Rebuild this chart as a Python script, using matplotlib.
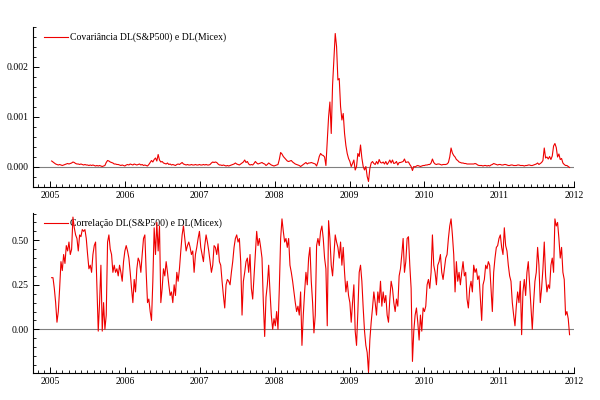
import numpy as np
import matplotlib
matplotlib.use("Agg")
import matplotlib.pyplot as plt
from matplotlib.ticker import MultipleLocator, FormatStrFormatter

plt.rcParams['font.family'] = ['Liberation Serif', 'DejaVu Serif']

# dates in decimal years (regular grid, ~6.5 days apart)
t_start = 2005.022
t_end = 2011.938

# covariance DL(S&P500) x DL(Micex), in units of 1e-4
cov_e4 = [
    1.2, 1.0, 0.8, 0.6, 0.5, 0.4, 0.5, 0.4, 0.3, 0.4,
    0.5, 0.6, 0.7, 0.6, 0.7, 0.8, 1.0, 0.9, 0.7, 0.6,
    0.6, 0.5, 0.6, 0.5, 0.4, 0.5, 0.4, 0.4, 0.3, 0.4,
    0.3, 0.4, 0.3, 0.2, 0.3, 0.2, 0.3, 0.2, 0.1, 0.2,
    0.3, 0.9, 1.3, 1.2, 1.0, 0.9, 0.8, 0.6, 0.6, 0.5,
    0.5, 0.4, 0.3, 0.4, 0.3, 0.2, 0.4, 0.5, 0.4, 0.6,
    0.5, 0.4, 0.6, 0.5, 0.4, 0.5, 0.6, 0.4, 0.5, 0.3,
    0.4, 0.3, 0.2, 0.5, 0.9, 1.3, 1.0, 1.5, 1.8, 1.2,
    2.5, 1.4, 1.0, 1.1, 0.8, 0.7, 0.6, 0.8, 0.5, 0.6,
    0.4, 0.5, 0.4, 0.3, 0.5, 0.6, 0.5, 0.7, 0.9, 0.6,
    0.5, 0.4, 0.5, 0.4, 0.4, 0.5, 0.4, 0.4, 0.5, 0.4,
    0.4, 0.5, 0.4, 0.4, 0.5, 0.4, 0.5, 0.4, 0.4, 0.5,
    0.8, 1.0, 0.9, 1.0, 0.9, 0.6, 0.4, 0.4, 0.3, 0.4,
    0.3, 0.2, 0.3, 0.2, 0.3, 0.4, 0.5, 0.6, 0.8, 0.6,
    0.5, 0.4, 0.6, 0.8, 1.0, 1.4, 0.9, 1.1, 0.6, 0.4,
    0.5, 0.4, 0.7, 1.1, 0.8, 0.6, 0.7, 0.8, 0.9, 0.7,
    0.6, 0.3, 0.5, 0.8, 0.6, 0.4, 0.3, 0.2, 0.3, 0.4,
    0.5, 1.5, 2.9, 2.6, 2.1, 1.8, 1.5, 1.2, 1.1, 1.2,
    1.3, 1.0, 0.8, 0.6, 0.5, 0.4, 0.3, 0.1, 0.3, 0.5,
    0.7, 0.9, 0.6, 0.8,
    # 2008 crisis
    0.8, 0.9, 0.8, 0.7, 0.6, 0.2, 1.0, 2.1, 2.7, 2.4,
    2.3, 2.0, 0.3, 5.0, 10.0, 13.0, 6.7, 16.4, 21.4, 26.7,
    24.1, 17.4, 17.7, 12.1, 9.4, 10.7, 6.7, 4.3, 2.7, 1.7,
    1.1, 0.1, 0.7, 1.4, -0.6, 0.1, 2.7, 2.1, 4.4, 1.8,
    0.1, -0.6, 0.1, -1.9, -2.9, -0.3, 0.8, 1.1, 0.7, 0.5,
    1.1, 0.6, 1.5, 0.9, 0.8, 1.0, 0.6, 1.1, 0.5, 0.9,
    1.4, 0.8, 1.4, 0.7, 0.8, 1.1, 0.4, 0.9,
    # 2009.7 onwards
    0.9, 1.0, 1.1, 1.6, 0.9, 1.0, 1.0, 0.5, 0.1, -0.7,
    0.1, 0.0, 0.2, 0.3, 0.2, 0.1, 0.2, 0.3, 0.3, 0.4,
    0.4, 0.5, 0.5, 0.8, 1.6, 0.9, 0.6, 0.5, 0.6, 0.6,
    0.5, 0.4, 0.5, 0.5, 0.5, 0.6, 0.9, 2.0, 3.8, 2.8,
    2.3, 2.0, 1.5, 1.3, 1.0, 0.9, 0.8, 0.8, 0.7, 0.7,
    0.6, 0.6, 0.6, 0.6, 0.6, 0.6, 0.7, 0.6, 0.4, 0.3,
    0.3, 0.3, 0.2, 0.3, 0.3, 0.2, 0.3, 0.2, 0.4, 0.5,
    0.7, 0.6, 0.5, 0.4, 0.5, 0.5, 0.4, 0.4, 0.5, 0.5,
    0.4, 0.3, 0.3, 0.4, 0.4, 0.3, 0.3, 0.3, 0.4, 0.4,
    0.3, 0.3, 0.3, 0.2, 0.3, 0.3, 0.4, 0.4, 0.3, 0.3,
    0.4, 0.5, 0.6, 0.8, 0.5, 0.7, 0.9, 1.3, 3.8, 1.8,
    2.0, 1.6, 2.1, 1.5, 2.2, 4.2, 4.7, 3.9, 2.0, 2.6,
    1.5, 1.7, 0.8, 0.5, 0.3, 0.3, 0.1, -0.1,
]

# correlation DL(S&P500) x DL(Micex)
corr = [
    0.29, 0.29, 0.23, 0.15, 0.04, 0.10, 0.23, 0.38, 0.33, 0.42,
    0.37, 0.47, 0.44, 0.49, 0.42, 0.45, 0.63, 0.57, 0.53, 0.51,
    0.44, 0.53, 0.52, 0.56, 0.55, 0.56, 0.51, 0.42, 0.34, 0.36,
    0.32, 0.42, 0.47, 0.49, 0.25, -0.01, 0.15, 0.36, -0.01, 0.15,
    0.00, 0.08, 0.49, 0.53, 0.45, 0.42, 0.32, 0.36, 0.32, 0.34,
    0.30, 0.36, 0.32, 0.27, 0.38, 0.44, 0.47, 0.44, 0.40, 0.32,
    0.23, 0.15, 0.28, 0.21, 0.34, 0.40, 0.38, 0.32, 0.42, 0.51,
    0.53, 0.32, 0.15, 0.17, 0.10, 0.05, 0.27, 0.57, 0.42, 0.60,
    0.44, 0.58, 0.15, 0.23, 0.34, 0.30, 0.38, 0.32, 0.25, 0.19,
    0.21, 0.15, 0.25, 0.19, 0.32, 0.27, 0.34, 0.44, 0.53, 0.58,
    # 2006.7 - 2008.5
    0.51, 0.44, 0.47, 0.49, 0.46, 0.42, 0.44, 0.32, 0.42, 0.46,
    0.51, 0.55, 0.46, 0.42, 0.38, 0.47, 0.53, 0.49, 0.44, 0.38,
    0.32, 0.36, 0.47, 0.46, 0.42, 0.48, 0.38, 0.36, 0.27, 0.19,
    0.12, 0.25, 0.28, 0.27, 0.25, 0.32, 0.38, 0.46, 0.51, 0.53,
    0.49, 0.51, 0.38, 0.08, 0.27, 0.32, 0.38, 0.40, 0.32, 0.42,
    0.23, 0.17, 0.30, 0.42, 0.55, 0.47, 0.51, 0.46, 0.40, 0.15,
    -0.04, 0.18, 0.25, 0.36, 0.21, 0.08, 0.00, 0.06, 0.02, 0.10,
    0.00, 0.23, 0.51, 0.62, 0.55, 0.49, 0.51, 0.46, 0.51, 0.36,
    0.32, 0.27, 0.21, 0.15, 0.10, 0.13, 0.08, 0.21, -0.09, 0.08,
    0.21, 0.32, 0.25, 0.40, 0.46, 0.27, 0.15, -0.02, 0.08, 0.47,
    0.51,
    # 2008.5 - 2010.3
    0.47, 0.55, 0.58, 0.51, 0.40, 0.34, 0.02, 0.61, 0.51, 0.36,
    0.30, 0.42, 0.53, 0.49, 0.46, 0.40, 0.49, 0.36, 0.46, 0.32,
    0.21, 0.27, 0.19, 0.15, 0.04, 0.15, 0.25, -0.01, -0.09, 0.10,
    0.32, 0.36, 0.27, 0.12, -0.01, -0.09, -0.13, -0.24, -0.06, 0.04,
    0.12, 0.21, 0.15, 0.08, 0.21, 0.15, 0.27, 0.13, 0.21, 0.15,
    0.19, 0.08, 0.04, 0.17, 0.27, 0.23, 0.15, 0.10, 0.17, 0.13,
    0.30, 0.34, 0.42, 0.51, 0.32, 0.38, 0.51, 0.52, 0.36, 0.23,
    -0.18, -0.01, 0.08, 0.12, 0.04, -0.06, 0.08, -0.01, 0.12, 0.10,
    0.13, 0.25, 0.28, 0.23, 0.32, 0.53, 0.36, 0.32, 0.25, 0.36,
    0.38, 0.42, 0.32, 0.28, 0.34, 0.40, 0.42, 0.51, 0.58, 0.62,
    0.53,
    # 2010.3 - 2011.95
    0.42, 0.21, 0.38, 0.27, 0.32, 0.25, 0.32, 0.38, 0.30, 0.32,
    0.17, 0.12, 0.23, 0.27, 0.21, 0.36, 0.32, 0.34, 0.28, 0.30,
    0.17, 0.05, 0.25, 0.28, 0.36, 0.34, 0.38, 0.36, 0.23, 0.10,
    0.32, 0.40, 0.46, 0.47, 0.51, 0.53, 0.46, 0.42, 0.57, 0.47,
    0.44, 0.36, 0.30, 0.27, 0.15, 0.08, 0.02, 0.13, 0.21, 0.15,
    0.27, -0.03, 0.21, 0.28, 0.19, 0.32, 0.38, 0.25, 0.13, 0.00,
    0.15, 0.27, 0.32, 0.46, 0.36, 0.15, 0.23, 0.34, 0.49, 0.30,
    0.21, 0.25, 0.23, 0.36, 0.40, 0.32, 0.62, 0.58, 0.60, 0.51,
    0.40, 0.46, 0.32, 0.28, 0.08, 0.10, 0.06, -0.03,
]

t_cov = np.linspace(t_start, t_end, len(cov_e4))
t_corr = np.linspace(t_start, t_end, len(corr))
cov = np.array(cov_e4) * 1e-4

fig = plt.figure(figsize=(6, 4), dpi=100)
ax1 = fig.add_axes([0.055, 0.5325, 0.902, 0.40])
ax2 = fig.add_axes([0.055, 0.0675, 0.902, 0.40])

panels = [
    (ax1, t_cov, cov, 'Covariância DL(S&P500) e DL(Micex)', (-0.0004, 0.0028), 0.001, 0.0002, '%.3f'),
    (ax2, t_corr, corr, 'Correlação DL(S&P500) e DL(Micex)', (-0.245, 0.653), 0.25, 0.05, '%.2f'),
]

for ax, t, y, lab, ylim, major, minor, fmt in panels:
    ax.axhline(0, color='#808080', lw=0.8, zorder=1)
    ax.plot(t, y, color='#ee0000', lw=0.8, label=lab, zorder=3)
    ax.set_xlim(2004.773, 2012.0)
    ax.set_ylim(*ylim)
    ax.xaxis.set_major_locator(MultipleLocator(1))
    ax.xaxis.set_minor_locator(MultipleLocator(1 / 12))
    ax.xaxis.set_major_formatter(FormatStrFormatter('%d'))
    ax.yaxis.set_major_locator(MultipleLocator(major))
    ax.yaxis.set_minor_locator(MultipleLocator(minor))
    ax.yaxis.set_major_formatter(FormatStrFormatter(fmt))
    yt = [v for v in np.arange(0, ylim[1], major)]
    ax.set_yticks(yt)
    ax.tick_params(which='major', direction='in', length=4, width=0.7, labelsize=7, pad=3)
    ax.tick_params(which='minor', direction='in', length=2, width=0.6)
    for s in ['top', 'right']:
        ax.spines[s].set_visible(False)
    for s in ['left', 'bottom']:
        ax.spines[s].set_linewidth(0.8)
    leg = ax.legend(loc='upper left', bbox_to_anchor=(0.01, 1.0), frameon=False,
                    fontsize=7, handlelength=2.4, handletextpad=0.3, borderaxespad=0.2)
    leg.set_zorder(2)

fig.savefig('out.png', dpi=100)
